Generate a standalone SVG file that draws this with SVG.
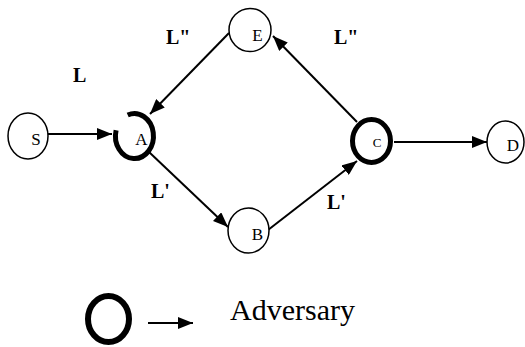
<svg xmlns="http://www.w3.org/2000/svg" width="525" height="347" viewBox="0 0 525 347">
<style>
.n{fill:#fff;stroke:#000;stroke-width:1.5}
.adv{fill:none;stroke:#000;stroke-width:5}
.t{font-size:17px;text-anchor:middle}
.lb{font-size:20px;font-weight:bold}
.e{stroke:#000;stroke-width:2;fill:none;marker-end:url(#ah)}
</style>
<defs>
<marker id="ah" markerUnits="userSpaceOnUse" markerWidth="16" markerHeight="12" refX="15" refY="6" orient="auto">
<path d="M0,0 L15,6 L0,12 Z" fill="#000"/>
</marker>
</defs>
<rect width="525" height="347" fill="#fff"/>
<g id="edges">
<line class="e" x1="48" y1="134" x2="112" y2="134"/>
<line class="e" x1="229" y1="33" x2="150" y2="114"/>
<line class="e" x1="149" y1="152" x2="228" y2="227"/>
<line class="e" x1="268" y1="230" x2="357" y2="161"/>
<line class="e" x1="357" y1="122" x2="273" y2="36"/>
<line class="e" x1="394" y1="142" x2="487" y2="142"/>
</g>
<g font-family="Liberation Serif, serif" fill="#000">
<g id="S"><ellipse class="n" cx="28" cy="136" rx="20" ry="23"/><text class="t" x="36" y="145">S</text></g>
<g id="A"><path class="adv" d="M127.7,115 A19,22.5 0 1 1 116.1,130.2"/><text class="t" x="141.5" y="145">A</text></g>
<g id="E"><ellipse class="n" cx="250" cy="30" rx="21" ry="21.5"/><text class="t" x="257.5" y="41">E</text></g>
<g id="B"><ellipse class="n" cx="248.5" cy="230.5" rx="20.5" ry="22.5"/><text class="t" x="257.5" y="240">B</text></g>
<g id="C"><ellipse class="adv" cx="371.5" cy="141" rx="19" ry="21.5"/><text class="t" x="377" y="147" style="font-size:13px">C</text></g>
<g id="D"><ellipse class="n" cx="505.5" cy="142" rx="18.5" ry="21"/><text class="t" x="513" y="151">D</text></g>
<g id="labels">
<text class="lb" x="73" y="82">L</text>
<text class="lb" x="166" y="44">L"</text>
<text class="lb" x="334" y="44">L"</text>
<text class="lb" x="151" y="198">L'</text>
<text class="lb" x="327" y="209">L'</text>
</g>
<g id="legend">
<ellipse cx="108.5" cy="319" rx="20.5" ry="23" fill="none" stroke="#000" stroke-width="6"/>
<line class="e" x1="148" y1="323" x2="193" y2="323"/>
<text x="230" y="320" font-size="30">Adversary</text>
</g>
</g>
</svg>
